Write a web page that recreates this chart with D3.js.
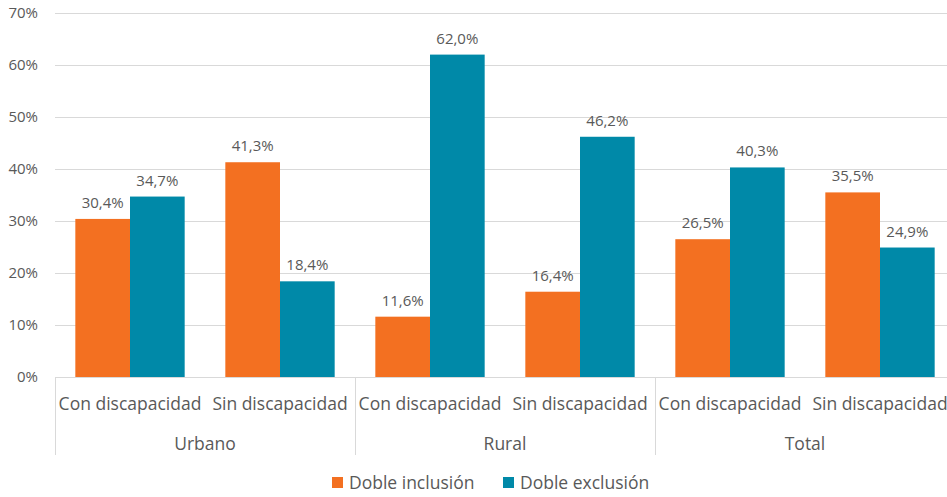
<!DOCTYPE html>
<html><head><meta charset="utf-8">
<script src="https://cdn.jsdelivr.net/npm/d3@7"></script>
<style>body{margin:0;background:#fff}svg{display:block}text{font-family:"Open Sans",sans-serif;fill:#595959}</style>
</head><body><svg id="c" width="947" height="497"></svg>
<script>
const groups = ["Urbano", "Rural", "Total"];
const subcats = ["Con discapacidad", "Sin discapacidad"];
const seriesNames = ["Doble inclusión", "Doble exclusión"];
const inclusion = [30.4, 41.3, 11.6, 16.4, 26.5, 35.5];
const exclusion = [34.7, 18.4, 62.0, 46.2, 40.3, 24.9];
const yTicks = [0, 10, 20, 30, 40, 50, 60, 70];
const colors = ["#F37021", "#0089A8"];

(function () {
const svg = d3.select("#c");
const mLeft = 55, mRight = 955, mTop = 13, mBottom = 377;
const cats = [];
groups.forEach(g => subcats.forEach(s => cats.push(g + "|" + s)));
const x = d3.scaleBand().domain(cats).range([mLeft, mRight]).paddingInner(0.271).paddingOuter(0.1355);
const x1 = d3.scaleBand().domain([0, 1]).range([0, x.bandwidth()]);
const y = d3.scaleLinear().domain([0, 70]).range([mBottom, mTop]);

svg.append("g").selectAll("line").data(yTicks).join("line")
  .attr("x1", mLeft).attr("x2", 947).attr("y1", d => Math.round(y(d)) + 0.5).attr("y2", d => Math.round(y(d)) + 0.5)
  .attr("stroke", "#d9d9d9").attr("stroke-width", 1);
svg.append("g").selectAll("text").data(yTicks).join("text")
  .attr("x", 38).attr("y", d => y(d)).attr("dy", "0.35em").attr("text-anchor", "end")
  .attr("font-size", 15).text(d => d + "%");

const groupW = x.step() * 2;
const sepX = [0, 1, 2, 3].map(i => mLeft + i * groupW);
svg.append("g").selectAll("line").data(sepX).join("line")
  .attr("x1", d => Math.round(d) + 0.5).attr("x2", d => Math.round(d) + 0.5)
  .attr("y1", mBottom).attr("y2", 455).attr("stroke", "#d9d9d9");

const data = [];
cats.forEach((c, i) => {
  data.push({c, s: 0, v: inclusion[i]});
  data.push({c, s: 1, v: exclusion[i]});
});
svg.append("g").selectAll("rect").data(data).join("rect")
  .attr("x", d => x(d.c) + x1(d.s)).attr("width", x1.bandwidth())
  .attr("y", d => y(d.v)).attr("height", d => y(0) - y(d.v))
  .attr("fill", d => colors[d.s]);
svg.append("g").selectAll("text").data(data).join("text")
  .attr("x", d => x(d.c) + x1(d.s) + x1.bandwidth() / 2).attr("y", d => y(d.v) - 11)
  .attr("text-anchor", "middle").attr("font-size", 15)
  .text(d => d.v.toFixed(1).replace(".", ",") + "%");

svg.append("g").selectAll("text").data(cats).join("text")
  .attr("x", d => x(d) + x.bandwidth() / 2).attr("y", 410)
  .attr("text-anchor", "middle").attr("font-size", 17.5)
  .text(d => d.split("|")[1]);
svg.append("g").selectAll("text").data(groups).join("text")
  .attr("x", (d, i) => mLeft + groupW * i + groupW / 2).attr("y", 450)
  .attr("text-anchor", "middle").attr("font-size", 17.5).text(d => d);

const leg = [{n: seriesNames[0], x: 332}, {n: seriesNames[1], x: 503}];
const lg = svg.append("g").selectAll("g").data(leg).join("g");
lg.append("rect").attr("x", d => d.x).attr("y", 477).attr("width", 11).attr("height", 11)
  .attr("fill", (d, i) => colors[i]);
lg.append("text").attr("x", d => d.x + 17).attr("y", 489).attr("font-size", 17.5).text(d => d.n);
})();
</script></body></html>
